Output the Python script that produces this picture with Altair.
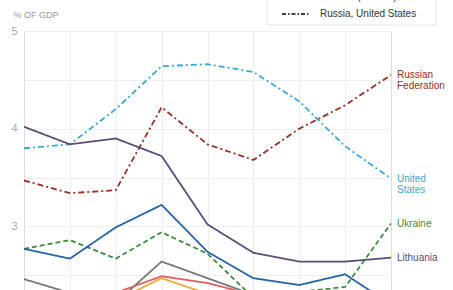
import altair as alt
import pandas as pd

years = [2006, 2007, 2008, 2009, 2010, 2011, 2012, 2013, 2014]

series_names = ["Russian Federation", "United States", "Lithuania", "Ukraine",
                "Poland", "Estonia", "Latvia", "Belarus"]
series_labels = ["Russian\nFederation", "United\nStates", "Lithuania", "Ukraine",
                 "Poland", "Estonia", "Latvia", "Belarus"]
series_style = ["dashdot", "dashdot", "solid", "dashed",
                "solid", "solid", "solid", "solid"]
line_colors = ["#9b2d20", "#3aa7d9", "#5a4d78", "#3c8c3c",
               "#2563a8", "#787878", "#e0605a", "#f5a83a"]
label_colors = ["#b5503f", "#68b4e4", "#5f5680", "#62a062",
                "#2563a8", "#787878", "#e0605a", "#f5a83a"]

russia = [3.47, 3.34, 3.37, 4.22, 3.84, 3.68, 4.00, 4.24, 4.55]
usa = [3.80, 3.84, 4.20, 4.64, 4.66, 4.58, 4.28, 3.82, 3.49]
lithuania = [4.02, 3.84, 3.90, 3.72, 3.02, 2.73, 2.64, 2.64, 2.68]
ukraine = [2.77, 2.86, 2.67, 2.94, 2.72, 2.27, 2.33, 2.38, 3.03]
poland = [2.77, 2.67, 2.99, 3.22, 2.74, 2.47, 2.40, 2.51, 2.20]
estonia = [2.46, 2.32, 2.22, 2.64, 2.47, 2.30, 2.25, 2.22, 2.20]
latvia = [2.20, 2.25, 2.32, 2.49, 2.42, 2.30, 2.20, 2.15, 2.10]
belarus = [2.10, 2.15, 2.24, 2.47, 2.31, 2.10, 2.05, 2.00, 2.00]
all_values = [russia, usa, lithuania, ukraine, poland, estonia, latvia, belarus]

legend_labels = ["Ukraine (dashed)", "Russia, United States"]

Y_MIN, Y_MAX = 2.349, 5.0

rows = []
for name, style, vals in zip(series_names, series_style, all_values):
    for yr, v in zip(years, vals):
        rows.append({"country": name, "style": style, "year": yr, "value": v})
df = pd.DataFrame(rows)

ends = pd.DataFrame({
    "country": series_names,
    "label": series_labels,
    "year": [years[-1]] * len(series_names),
    "value": [v[-1] for v in all_values],
})
ends = ends[ends["value"] >= Y_MIN]

FONT = "Liberation Sans"

x = alt.X("year:Q", scale=alt.Scale(domain=[2006, 2014], nice=False),
          axis=alt.Axis(values=years[1:-1], labels=False, ticks=False, domain=False,
                        title=None, grid=True, gridColor="#eeeeee", gridWidth=1))
y = alt.Y("value:Q", scale=alt.Scale(domain=[Y_MIN, Y_MAX], nice=False, zero=False),
          axis=alt.Axis(values=[2.5, 3, 3.5, 4, 4.5, 5],
                        labelExpr="datum.value % 1 == 0 ? format(datum.value, 'd') : ''",
                        ticks=False, domain=False, labelPadding=7,
                        labelColor="#aaaaaa", labelFontSize=11, labelFont=FONT,
                        gridColor="#eeeeee", gridWidth=1,
                        title="% OF GDP", titleAngle=0, titleAlign="left",
                        titleBaseline="middle", titleX=-11, titleY=-17,
                        titleFontSize=9, titleFontWeight="normal",
                        titleColor="#999999", titleFont=FONT))

lines = alt.Chart(df).mark_line(strokeWidth=1.8, clip=True).encode(
    x=x, y=y,
    color=alt.Color("country:N", scale=alt.Scale(domain=series_names, range=line_colors), legend=None),
    strokeDash=alt.StrokeDash("style:N", scale=alt.Scale(
        domain=["solid", "dashed", "dashdot"],
        range=[[1, 0], [5, 3], [6, 3, 2, 3]]), legend=None),
    detail="country:N",
)

labels = alt.Chart(ends).mark_text(align="left", baseline="alphabetic", dx=6, dy=3.5,
                                   fontSize=10, font=FONT, lineBreak="\n",
                                   lineHeight=10.5).encode(
    x="year:Q", y="value:Q", text="label:N",
    color=alt.Color("country:N", scale=alt.Scale(domain=series_names, range=label_colors), legend=None),
)

one = pd.DataFrame({"a": [0]})
legend_box = alt.Chart(one).mark_rect(fill="white", stroke="#e4e4e4", strokeWidth=1).encode(
    x=alt.value(243), x2=alt.value(412), y=alt.value(-60), y2=alt.value(-6))
legend_sym_top = alt.Chart(one).mark_rule(stroke="black", strokeWidth=1.5, strokeDash=[4, 2]).encode(
    x=alt.value(258), x2=alt.value(286), y=alt.value(-35))
legend_sym = alt.Chart(one).mark_rule(stroke="black", strokeWidth=1.5,
                                      strokeDash=[4, 2, 1.5, 2]).encode(
    x=alt.value(258), x2=alt.value(286), y=alt.value(-17))
legend_txt_top = alt.Chart(one).mark_text(align="left", baseline="middle", fontSize=10,
                                          font=FONT, color="#333333").encode(
    x=alt.value(296), y=alt.value(-34), text=alt.value(legend_labels[0]))
legend_txt = alt.Chart(one).mark_text(align="left", baseline="middle", fontSize=10,
                                      font=FONT, color="#333333").encode(
    x=alt.value(296), y=alt.value(-17), text=alt.value(legend_labels[1]))

chart = alt.layer(lines, labels, legend_box, legend_sym_top, legend_sym,
                  legend_txt_top, legend_txt).properties(
    width=367, height=259,
    padding={"left": 24, "top": 31, "right": 62, "bottom": 0},
    autosize=alt.AutoSizeParams(type="none"),
).configure_view(stroke=None).configure(background="white")

chart.save("out.html", embed_options={"renderer": "svg", "actions": False})
